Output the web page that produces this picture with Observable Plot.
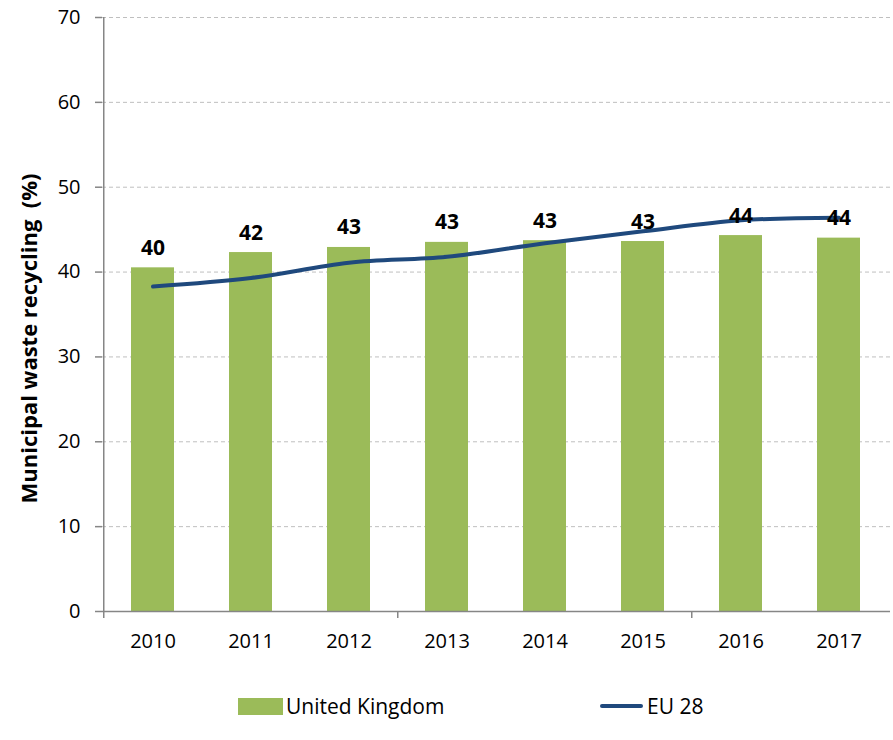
<!DOCTYPE html>
<html>
<head>
<meta charset="utf-8">
<script src="https://cdn.jsdelivr.net/npm/d3@7"></script>
<script src="https://cdn.jsdelivr.net/npm/@observablehq/plot@0.6"></script>
<style>
  body { margin: 0; background: #fff; font-family: "Open Sans", sans-serif; }
  #wrap { position: relative; width: 893px; height: 740px; }
  #legend { position: absolute; left: 0; top: 670px; width: 893px; height: 70px; font-size: 21px; color: #000; }
  .lg { position: absolute; display: flex; align-items: center; height: 30px; top: 21px; }
  .sw { width: 45px; height: 17px; background: #9BBB59; margin-right: 3px; }
  .ln { width: 43px; height: 4px; background: #1F497D; border-radius: 2px; margin-right: 4px; }
</style>
</head>
<body>
<div id="wrap">
  <div id="chart"></div>
  <div id="legend">
    <div class="lg" style="left:238px"><div class="sw"></div><span>United Kingdom</span></div>
    <div class="lg" style="left:600px"><div class="ln"></div><span>EU 28</span></div>
  </div>
</div>
<script>
const years = ["2010", "2011", "2012", "2013", "2014", "2015", "2016", "2017"];
const ukValues = [40.5, 42.3, 42.9, 43.5, 43.7, 43.6, 44.3, 44.0];
const ukLabels = ["40", "42", "43", "43", "43", "43", "44", "44"];
const eu28Values = [38.3, 39.3, 41.1, 41.8, 43.4, 44.8, 46.1, 46.4];
const yTicks = [0, 10, 20, 30, 40, 50, 60, 70];
const xTickYears = ["2010", "2013", "2016"];
const yTitle = "Municipal waste recycling\u00a0 (%)";

const uk = years.map((y, i) => ({year: y, value: ukValues[i], label: ukLabels[i]}));
const eu = years.map((y, i) => ({year: y, value: eu28Values[i]}));

const W = 893, H = 670, mL = 102, mR = 3, mT = 17, mB = 59;
const pad = 0.56;
const step = (W - mL - mR) / (years.length - pad + pad);

const chart = Plot.plot({
  width: W,
  height: H,
  marginLeft: mL,
  marginRight: mR,
  marginTop: mT,
  marginBottom: mB,
  style: {fontFamily: "Open Sans, sans-serif", fontSize: "20px", color: "#000", background: "#fff"},
  x: {domain: years, type: "band", paddingInner: pad, paddingOuter: pad / 2},
  y: {type: "linear", domain: [0, 70]},
  marks: [
    Plot.ruleY(yTicks.filter(d => d > 0), {stroke: "#BFBFBF", strokeDasharray: "4,3", strokeWidth: 1}),
    Plot.barY(uk, {x: "year", y: "value", fill: "#9BBB59"}),
    Plot.ruleY([0], {stroke: "#868686", strokeWidth: 1.5}),
    Plot.ruleX([years[0]], {dx: -step / 2, y1: 0, y2: 70, stroke: "#868686", strokeWidth: 1.5}),
    Plot.axisX({ticks: xTickYears, tickSize: 7, dx: -step / 2, tickFormat: () => "", stroke: "#868686", strokeWidth: 1.5, label: null}),
    Plot.line(eu, {x: "year", y: "value", stroke: "#1F497D", strokeWidth: 4, curve: "catmull-rom"}),
    Plot.text(uk, {x: "year", y: "value", text: "label", dy: -13, lineAnchor: "bottom", fontWeight: "bold", fontSize: 21, fill: "#000"}),
    Plot.axisY({ticks: yTicks, tickSize: 7, tickPadding: 15, stroke: "#868686", strokeWidth: 1.5, fill: "#000", label: null, fontSize: 20}),
    Plot.axisX({tickSize: 0, tickPadding: 22, fill: "#000", label: null, fontSize: 20}),
    Plot.text([yTitle], {frameAnchor: "left", textAnchor: "middle", rotate: -90, dx: -73, dy: 24, fontWeight: "bold", fontSize: 22, fill: "#000"})
  ]
});
document.getElementById("chart").appendChild(chart);
</script>
</body>
</html>
